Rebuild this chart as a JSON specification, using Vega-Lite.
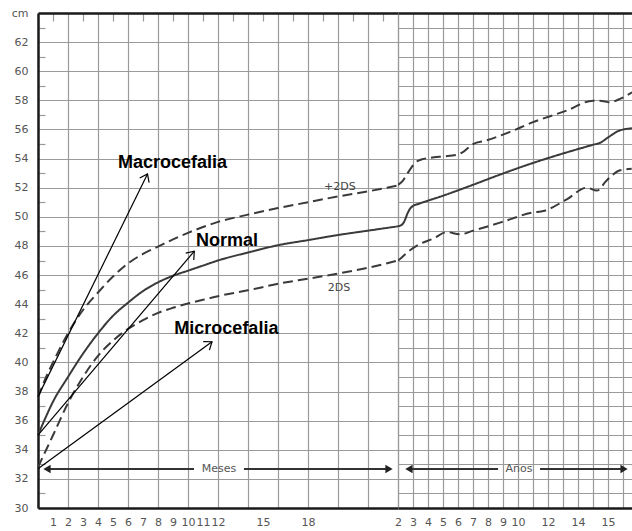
{
  "$schema": "https://vega.github.io/schema/vega-lite/v6.json",
  "padding": {"left": 5, "top": 7, "right": 0, "bottom": 0},
  "spacing": 0,
  "bounds": "flush",
  "background": "white",
  "config": {"view": {"stroke": null}, "axis": {"labelFont": "DejaVu Sans", "labelFontSize": 11, "labelColor": "#555555", "gridColor": "#9a9a9a", "gridWidth": 1.2, "domainColor": "#1a1a1a", "domainWidth": 2.5}},
  "datasets": {
    "meses": [
      {"curva": "Normal", "mes": 0, "cm": 35.0}, {"curva": "Normal", "mes": 0.5, "cm": 36.2}, {"curva": "Normal", "mes": 1, "cm": 37.3}, {"curva": "Normal", "mes": 2, "cm": 39.0}, {"curva": "Normal", "mes": 3, "cm": 40.6}, {"curva": "Normal", "mes": 4, "cm": 42.0}, {"curva": "Normal", "mes": 5, "cm": 43.2}, {"curva": "Normal", "mes": 6, "cm": 44.1}, {"curva": "Normal", "mes": 7, "cm": 44.9}, {"curva": "Normal", "mes": 8, "cm": 45.5}, {"curva": "Normal", "mes": 9, "cm": 45.95}, {"curva": "Normal", "mes": 10, "cm": 46.3}, {"curva": "Normal", "mes": 11, "cm": 46.65}, {"curva": "Normal", "mes": 12, "cm": 47.0}, {"curva": "Normal", "mes": 14, "cm": 47.55}, {"curva": "Normal", "mes": 16, "cm": 48.05}, {"curva": "Normal", "mes": 18, "cm": 48.4}, {"curva": "Normal", "mes": 20, "cm": 48.75}, {"curva": "Normal", "mes": 22, "cm": 49.05}, {"curva": "Normal", "mes": 24, "cm": 49.35},
      {"curva": "+2DS", "mes": 0, "cm": 37.6}, {"curva": "+2DS", "mes": 0.5, "cm": 38.9}, {"curva": "+2DS", "mes": 1, "cm": 40.0}, {"curva": "+2DS", "mes": 2, "cm": 42.0}, {"curva": "+2DS", "mes": 3, "cm": 43.6}, {"curva": "+2DS", "mes": 4, "cm": 44.8}, {"curva": "+2DS", "mes": 5, "cm": 45.9}, {"curva": "+2DS", "mes": 6, "cm": 46.8}, {"curva": "+2DS", "mes": 7, "cm": 47.45}, {"curva": "+2DS", "mes": 8, "cm": 47.95}, {"curva": "+2DS", "mes": 9, "cm": 48.45}, {"curva": "+2DS", "mes": 10, "cm": 48.9}, {"curva": "+2DS", "mes": 11, "cm": 49.3}, {"curva": "+2DS", "mes": 12, "cm": 49.65}, {"curva": "+2DS", "mes": 14, "cm": 50.15}, {"curva": "+2DS", "mes": 16, "cm": 50.6}, {"curva": "+2DS", "mes": 18, "cm": 51.0}, {"curva": "+2DS", "mes": 20, "cm": 51.4}, {"curva": "+2DS", "mes": 22, "cm": 51.75}, {"curva": "+2DS", "mes": 24, "cm": 52.15},
      {"curva": "-2DS", "mes": 0, "cm": 32.8}, {"curva": "-2DS", "mes": 0.5, "cm": 33.9}, {"curva": "-2DS", "mes": 1, "cm": 35.0}, {"curva": "-2DS", "mes": 2, "cm": 37.2}, {"curva": "-2DS", "mes": 3, "cm": 39.0}, {"curva": "-2DS", "mes": 4, "cm": 40.45}, {"curva": "-2DS", "mes": 5, "cm": 41.5}, {"curva": "-2DS", "mes": 6, "cm": 42.3}, {"curva": "-2DS", "mes": 7, "cm": 42.9}, {"curva": "-2DS", "mes": 8, "cm": 43.4}, {"curva": "-2DS", "mes": 9, "cm": 43.75}, {"curva": "-2DS", "mes": 10, "cm": 44.05}, {"curva": "-2DS", "mes": 11, "cm": 44.3}, {"curva": "-2DS", "mes": 12, "cm": 44.55}, {"curva": "-2DS", "mes": 14, "cm": 44.95}, {"curva": "-2DS", "mes": 16, "cm": 45.4}, {"curva": "-2DS", "mes": 18, "cm": 45.75}, {"curva": "-2DS", "mes": 20, "cm": 46.1}, {"curva": "-2DS", "mes": 22, "cm": 46.5}, {"curva": "-2DS", "mes": 24, "cm": 47.0}
    ],
    "anos": [
      {"curva": "Normal", "ano": 2.0, "cm": 49.35}, {"curva": "Normal", "ano": 2.25, "cm": 49.45}, {"curva": "Normal", "ano": 2.45, "cm": 49.75}, {"curva": "Normal", "ano": 2.6, "cm": 50.15}, {"curva": "Normal", "ano": 2.8, "cm": 50.55}, {"curva": "Normal", "ano": 3.0, "cm": 50.75}, {"curva": "Normal", "ano": 3.4, "cm": 50.9}, {"curva": "Normal", "ano": 5.0, "cm": 51.45}, {"curva": "Normal", "ano": 7.0, "cm": 52.2}, {"curva": "Normal", "ano": 8.8, "cm": 52.9}, {"curva": "Normal", "ano": 11.0, "cm": 53.7}, {"curva": "Normal", "ano": 13.0, "cm": 54.35}, {"curva": "Normal", "ano": 15.0, "cm": 54.95}, {"curva": "Normal", "ano": 15.5, "cm": 55.1}, {"curva": "Normal", "ano": 16.0, "cm": 55.45}, {"curva": "Normal", "ano": 16.8, "cm": 55.94}, {"curva": "Normal", "ano": 17.6, "cm": 56.08},
      {"curva": "+2DS", "ano": 2.0, "cm": 52.2}, {"curva": "+2DS", "ano": 2.3, "cm": 52.45}, {"curva": "+2DS", "ano": 2.58, "cm": 52.9}, {"curva": "+2DS", "ano": 2.9, "cm": 53.4}, {"curva": "+2DS", "ano": 3.13, "cm": 53.7}, {"curva": "+2DS", "ano": 3.6, "cm": 53.95}, {"curva": "+2DS", "ano": 4.13, "cm": 54.05}, {"curva": "+2DS", "ano": 5.0, "cm": 54.15}, {"curva": "+2DS", "ano": 5.9, "cm": 54.25}, {"curva": "+2DS", "ano": 6.4, "cm": 54.5}, {"curva": "+2DS", "ano": 7.0, "cm": 55.0}, {"curva": "+2DS", "ano": 7.9, "cm": 55.25}, {"curva": "+2DS", "ano": 9.5, "cm": 55.85}, {"curva": "+2DS", "ano": 11.0, "cm": 56.5}, {"curva": "+2DS", "ano": 13.25, "cm": 57.3}, {"curva": "+2DS", "ano": 15.0, "cm": 57.98}, {"curva": "+2DS", "ano": 15.6, "cm": 57.95}, {"curva": "+2DS", "ano": 16.13, "cm": 57.87}, {"curva": "+2DS", "ano": 16.8, "cm": 58.1}, {"curva": "+2DS", "ano": 17.6, "cm": 58.55},
      {"curva": "-2DS", "ano": 2.0, "cm": 47.0}, {"curva": "-2DS", "ano": 2.13, "cm": 47.1}, {"curva": "-2DS", "ano": 2.5, "cm": 47.45}, {"curva": "-2DS", "ano": 2.8, "cm": 47.7}, {"curva": "-2DS", "ano": 3.47, "cm": 48.14}, {"curva": "-2DS", "ano": 4.35, "cm": 48.5}, {"curva": "-2DS", "ano": 5.25, "cm": 48.95}, {"curva": "-2DS", "ano": 6.13, "cm": 48.8}, {"curva": "-2DS", "ano": 7.02, "cm": 49.05}, {"curva": "-2DS", "ano": 8.8, "cm": 49.6}, {"curva": "-2DS", "ano": 11.02, "cm": 50.3}, {"curva": "-2DS", "ano": 11.69, "cm": 50.4}, {"curva": "-2DS", "ano": 13.25, "cm": 51.2}, {"curva": "-2DS", "ano": 14.58, "cm": 52.0}, {"curva": "-2DS", "ano": 15.25, "cm": 51.8}, {"curva": "-2DS", "ano": 15.91, "cm": 52.5}, {"curva": "-2DS", "ano": 16.8, "cm": 53.2}, {"curva": "-2DS", "ano": 17.58, "cm": 53.3}
    ],
    "flechas": [
      {"flecha": "Macrocefalia", "extremo": "origen", "mes": 0, "cm": 37.65}, {"flecha": "Macrocefalia", "extremo": "punta", "mes": 7.3, "cm": 52.94},
      {"flecha": "Normal", "extremo": "origen", "mes": 0, "cm": 35.0}, {"flecha": "Normal", "extremo": "punta", "mes": 10.42, "cm": 47.64},
      {"flecha": "Microcefalia", "extremo": "origen", "mes": 0, "cm": 32.7}, {"flecha": "Microcefalia", "extremo": "punta", "mes": 11.6, "cm": 41.42}
    ],
    "etiquetas": [
      {"texto": "Macrocefalia", "mes": 5.33, "cm": 53.33},
      {"texto": "Normal", "mes": 10.53, "cm": 47.98},
      {"texto": "Microcefalia", "mes": 9.09, "cm": 41.95}
    ],
    "ds": [
      {"texto": "+2DS", "mes": 20.13, "cm": 52.05},
      {"texto": "2DS", "mes": 20.07, "cm": 45.11}
    ],
    "meses_eje": [
      {"mes": 0.6, "mes2": 10.4, "cm": 32.68},
      {"mes": 13.73, "mes2": 23.4, "cm": 32.68}
    ],
    "meses_puntas": [
      {"mes": 0.6, "cm": 32.68, "punta": "izq"},
      {"mes": 23.4, "cm": 32.68, "punta": "der"}
    ],
    "anos_eje": [
      {"ano": 2.73, "ano2": 8.67, "cm": 32.68},
      {"ano": 11.47, "ano2": 17.07, "cm": 32.68}
    ],
    "anos_puntas": [
      {"ano": 2.73, "cm": 32.68, "punta": "izq"},
      {"ano": 17.07, "cm": 32.68, "punta": "der"}
    ]
  },
  "hconcat": [
    {
      "width": 360,
      "height": 495,
      "encoding": {
        "x": {"field": "mes", "type": "quantitative", "scale": {"domain": [0, 24], "nice": false, "zero": false},
          "axis": {"title": null, "values": [0,1,2,3,4,5,6,7,8,9,10,11,12,13,14,15,16,17,18,19,20,21,22,23,24],
            "labelExpr": "(datum.value >= 1 && datum.value <= 12) || datum.value == 15 || datum.value == 18 ? datum.label : ''",
            "labelFlush": false, "labelOverlap": false, "labelPadding": 8, "ticks": false, "grid": true,
            "gridDash": {"condition": {"test": "datum.value % 2 == 1", "value": [8, 2000]}, "value": [1, 0]}}},
        "y": {"field": "cm", "type": "quantitative", "scale": {"domain": [30, 64], "nice": false, "zero": false},
          "axis": {"title": null, "values": [30,31,32,33,34,35,36,37,38,39,40,41,42,43,44,45,46,47,48,49,50,51,52,53,54,55,56,57,58,59,60,61,62,63,64],
            "labelExpr": "datum.value == 64 ? 'cm' : (datum.value % 2 == 0 ? datum.label : '')",
            "labelOverlap": false, "labelPadding": 10, "ticks": false, "minExtent": 33, "maxExtent": 33, "grid": true,
            "gridColor": {"condition": {"test": "datum.value == 64", "value": "#1a1a1a"}, "value": "#9a9a9a"},
            "gridWidth": {"condition": {"test": "datum.value == 64", "value": 2.5}, "value": 1.2},
            "gridDash": {"condition": {"test": "datum.value % 2 == 1", "value": [7, 2000]}, "value": [1, 0]}}}
      },
      "layer": [
        {
          "data": {"name": "meses"},
          "mark": {"type": "line", "interpolate": "monotone", "strokeWidth": 2, "color": "#3a3a3a"},
          "encoding": {
            "strokeDash": {"field": "curva", "type": "nominal", "scale": {"domain": ["+2DS", "Normal", "-2DS"], "range": [[10, 5], [1, 0], [10, 5]]}, "legend": null}
          }
        },
        {
          "data": {"name": "flechas"},
          "mark": {"type": "line", "color": "black", "strokeWidth": 1.2},
          "encoding": {"detail": {"field": "flecha", "type": "nominal"}}
        },
        {
          "data": {"name": "flechas"},
          "transform": [{"filter": "datum.flecha == 'Macrocefalia' && datum.extremo == 'punta'"}],
          "mark": {"type": "point", "shape": "M-0.75,1L0,0L0.75,1", "filled": false, "stroke": "black", "strokeWidth": 1.2, "size": 196, "opacity": 1, "angle": 26.4}
        },
        {
          "data": {"name": "flechas"},
          "transform": [{"filter": "datum.flecha == 'Normal' && datum.extremo == 'punta'"}],
          "mark": {"type": "point", "shape": "M-0.75,1L0,0L0.75,1", "filled": false, "stroke": "black", "strokeWidth": 1.2, "size": 196, "opacity": 1, "angle": 40.5}
        },
        {
          "data": {"name": "flechas"},
          "transform": [{"filter": "datum.flecha == 'Microcefalia' && datum.extremo == 'punta'"}],
          "mark": {"type": "point", "shape": "M-0.75,1L0,0L0.75,1", "filled": false, "stroke": "black", "strokeWidth": 1.2, "size": 196, "opacity": 1, "angle": 54.2}
        },
        {
          "data": {"name": "etiquetas"},
          "mark": {"type": "text", "align": "left", "baseline": "alphabetic", "font": "Liberation Sans", "fontWeight": "bold", "fontSize": 18, "color": "black"},
          "encoding": {"text": {"field": "texto", "type": "nominal"}}
        },
        {
          "data": {"name": "ds"},
          "mark": {"type": "text", "align": "center", "baseline": "middle", "font": "DejaVu Sans", "fontSize": 11, "color": "#444444"},
          "encoding": {"text": {"field": "texto", "type": "nominal"}}
        },
        {
          "data": {"name": "meses_eje"},
          "mark": {"type": "rule", "color": "#333333", "strokeWidth": 2.2},
          "encoding": {"x2": {"field": "mes2"}}
        },
        {
          "data": {"name": "meses_puntas"},
          "mark": {"type": "point", "filled": true, "color": "#222222", "size": 70, "opacity": 1},
          "encoding": {
            "shape": {"field": "punta", "type": "nominal", "scale": {"domain": ["izq", "der"], "range": ["triangle-left", "triangle-right"]}, "legend": null}
          }
        },
        {
          "data": {"values": [{"texto": "Meses", "mes": 12.07, "cm": 32.68}]},
          "mark": {"type": "text", "align": "center", "baseline": "middle", "font": "DejaVu Sans", "fontSize": 11, "color": "#555555"},
          "encoding": {"text": {"field": "texto", "type": "nominal"}}
        }
      ]
    },
    {
      "width": 234,
      "height": 495,
      "encoding": {
        "x": {"field": "ano", "type": "quantitative", "scale": {"domain": [2, 17.6], "nice": false, "zero": false},
          "axis": {"title": null, "values": [2,3,4,5,6,7,8,9,10,11,12,13,14,15,16,17],
            "labelExpr": "datum.value <= 10 || datum.value == 12 || datum.value == 14 ? datum.label : (datum.value == 16 ? '15' : '')",
            "labelFlush": false, "labelOverlap": false, "labelPadding": 8, "ticks": false, "grid": true}},
        "y": {"field": "cm", "type": "quantitative", "scale": {"domain": [30, 64], "nice": false, "zero": false},
          "axis": {"title": null, "values": [30,31,32,33,34,35,36,37,38,39,40,41,42,43,44,45,46,47,48,49,50,51,52,53,54,55,56,57,58,59,60,61,62,63,64],
            "labels": false, "ticks": false, "domain": false, "domainOpacity": 0, "grid": true, "minExtent": 0, "maxExtent": 0,
            "gridColor": {"condition": {"test": "datum.value == 64", "value": "#1a1a1a"}, "value": "#9a9a9a"},
            "gridWidth": {"condition": {"test": "datum.value == 64", "value": 2.5}, "value": 1.2}}}
      },
      "layer": [
        {
          "data": {"name": "anos"},
          "mark": {"type": "line", "interpolate": "monotone", "strokeWidth": 2, "color": "#3a3a3a", "clip": true},
          "encoding": {
            "strokeDash": {"field": "curva", "type": "nominal", "scale": {"domain": ["+2DS", "Normal", "-2DS"], "range": [[10, 5], [1, 0], [10, 5]]}, "legend": null}
          }
        },
        {
          "data": {"name": "anos_eje"},
          "mark": {"type": "rule", "color": "#333333", "strokeWidth": 2.2},
          "encoding": {"x2": {"field": "ano2"}}
        },
        {
          "data": {"name": "anos_puntas"},
          "mark": {"type": "point", "filled": true, "color": "#222222", "size": 70, "opacity": 1},
          "encoding": {
            "shape": {"field": "punta", "type": "nominal", "scale": {"domain": ["izq", "der"], "range": ["triangle-left", "triangle-right"]}, "legend": null}
          }
        },
        {
          "data": {"values": [{"texto": "Años", "ano": 10.07, "cm": 32.68}]},
          "mark": {"type": "text", "align": "center", "baseline": "middle", "font": "DejaVu Sans", "fontSize": 11, "color": "#555555"},
          "encoding": {"text": {"field": "texto", "type": "nominal"}}
        }
      ]
    }
  ]
}
